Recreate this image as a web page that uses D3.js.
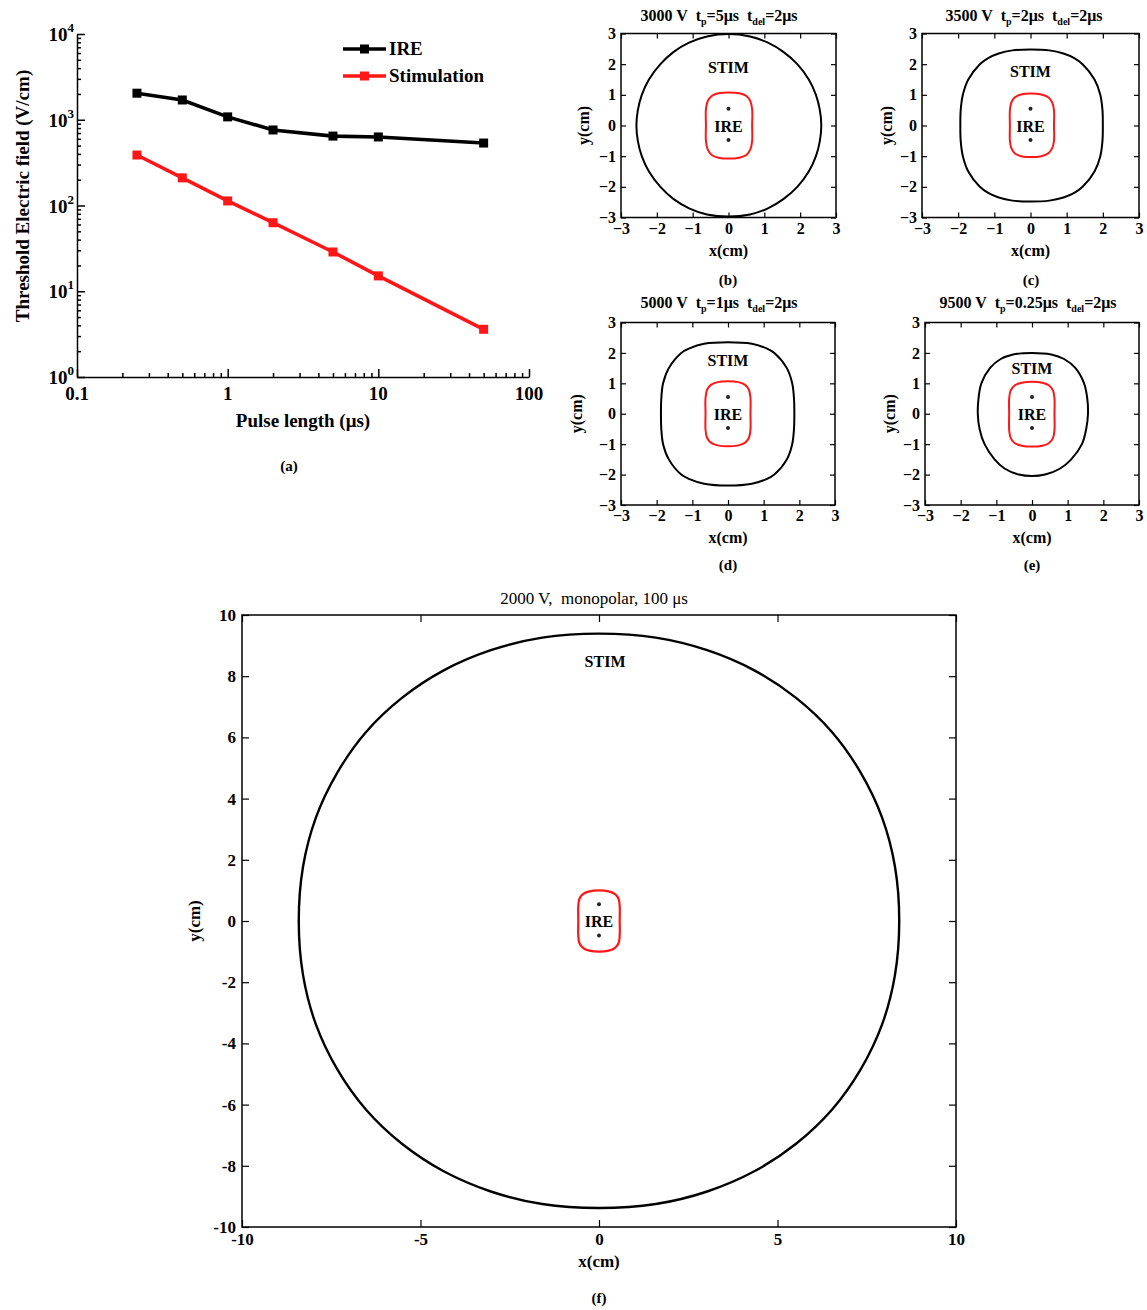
<!DOCTYPE html>
<html>
<head>
<meta charset="utf-8">
<script src="https://cdn.jsdelivr.net/npm/d3@7"></script>
<style>
body { margin: 0; background: #fff; }
text { font-family: "Liberation Serif", "Times New Roman", serif; fill: #000; }
</style>
</head>
<body>
<script>
// ---- panel (a): threshold field vs pulse length
var pulseLength = [0.25, 0.5, 1, 2, 5, 10, 50];
var ireThreshold = [2040, 1700, 1080, 760, 645, 630, 535];
var stimThreshold = [388, 210, 113, 63, 28.7, 15.1, 3.6];
var seriesNames = ['IRE', 'Stimulation'];
var seriesColours = ['#000000', '#ff1616'];
var yDecades = [1, 10, 100, 1000, 10000];
var yExponents = ['0', '1', '2', '3', '4'];
var xDecades = [0.1, 1, 10, 100];
var xDecadeLabels = ['0.1', '1', '10', '100'];

// ---- panels (b)-(e): contours, x/y in cm
var panelLetters = ['(b)', '(c)', '(d)', '(e)'];
var panelVolts = ['3000 V', '3500 V', '5000 V', '9500 V'];
var panelTp = ['5μs', '2μs', '1μs', '0.25μs'];
var panelTdel = ['2μs', '2μs', '2μs', '2μs'];
var smallTicks = [-3, -2, -1, 0, 1, 2, 3];

var stimB = [[0,2.98],[0.6,2.9],[1.1,2.7],[1.53,2.4],[1.92,2.0],[2.24,1.5],[2.44,1.0],[2.55,0.5],[2.59,0],[2.55,-0.5],[2.44,-1.0],[2.24,-1.5],
             [1.92,-2.0],[1.53,-2.4],[1.1,-2.7],[0.6,-2.9],[0,-2.97],[-0.6,-2.9],[-1.1,-2.7],[-1.53,-2.4],[-1.9,-2.0],[-2.22,-1.5],
             [-2.42,-1.0],[-2.53,-0.5],[-2.57,0],[-2.53,0.5],[-2.42,1.0],[-2.22,1.5],[-1.9,2.0],[-1.53,2.4],[-1.1,2.7],[-0.6,2.9]];
var ireB = [[0,1.08],[0.3,1.05],[0.5,0.96],[0.61,0.79],[0.66,0.53],[0.66,0],[0.66,-0.5],[0.61,-0.78],[0.5,-0.96],[0.3,-1.05],[0,-1.08],
            [-0.28,-1.05],[-0.47,-0.96],[-0.58,-0.78],[-0.63,-0.5],[-0.63,0],[-0.63,0.53],[-0.58,0.79],[-0.47,0.96],[-0.28,1.05]];

var stimC = [[0,2.48],[0.52,2.45],[0.91,2.35],[1.21,2.2],[1.44,2.0],[1.77,1.5],[1.93,1.0],[1.99,0.5],[2.0,0],[1.99,-0.5],[1.93,-1.0],[1.77,-1.5],
             [1.44,-2.0],[1.21,-2.2],[0.91,-2.35],[0.52,-2.45],[0,-2.48],[-0.5,-2.45],[-0.88,-2.35],[-1.17,-2.2],[-1.4,-2.0],[-1.72,-1.5],
             [-1.87,-1.0],[-1.93,-0.5],[-1.94,0],[-1.93,0.5],[-1.87,1.0],[-1.72,1.5],[-1.4,2.0],[-1.17,2.2],[-0.88,2.35],[-0.5,2.45]];
var ireC = [[0,1.04],[0.3,1.01],[0.49,0.92],[0.6,0.75],[0.65,0.5],[0.65,0],[0.65,-0.49],[0.6,-0.74],[0.49,-0.91],[0.3,-1.0],[0,-1.03],
            [-0.26,-1.0],[-0.43,-0.91],[-0.53,-0.74],[-0.57,-0.49],[-0.57,0],[-0.57,0.5],[-0.53,0.75],[-0.43,0.92],[-0.26,1.01]];

var stimD = [[0,2.35],[0.67,2.3],[1.08,2.15],[1.3,2.0],[1.65,1.5],[1.8,1.0],[1.85,0.5],[1.86,0],[1.85,-0.5],[1.8,-1.0],[1.65,-1.5],[1.3,-2.0],
             [1.08,-2.15],[0.67,-2.3],[0,-2.36],[-0.67,-2.3],[-1.08,-2.15],[-1.31,-2.0],[-1.66,-1.5],[-1.82,-1.0],[-1.87,-0.5],[-1.88,0],
             [-1.87,0.5],[-1.82,1.0],[-1.66,1.5],[-1.31,2.0],[-1.08,2.15],[-0.67,2.3]];
var ireD = [[0,1.07],[0.29,1.04],[0.48,0.95],[0.59,0.78],[0.63,0.52],[0.63,0],[0.63,-0.52],[0.59,-0.78],[0.48,-0.95],[0.29,-1.04],[0,-1.07],
            [-0.29,-1.04],[-0.48,-0.95],[-0.59,-0.78],[-0.63,-0.52],[-0.63,0],[-0.63,0.52],[-0.59,0.78],[-0.48,0.95],[-0.29,1.04]];

var stimE = [[0,2.0],[0.54,1.95],[0.9,1.8],[1.22,1.5],[1.46,1.0],[1.55,0.5],[1.57,0],[1.52,-0.5],[1.4,-1.0],[1.1,-1.5],[0.79,-1.8],[0.37,-2.0],
             [0,-2.05],[-0.37,-2.0],[-0.77,-1.8],[-1.05,-1.5],[-1.33,-1.0],[-1.47,-0.5],[-1.52,0],[-1.5,0.5],[-1.42,1.0],[-1.18,1.5],
             [-0.88,1.8],[-0.53,1.95]];
var ireE = [[0,1.05],[0.29,1.02],[0.48,0.93],[0.59,0.76],[0.63,0.5],[0.63,0],[0.63,-0.53],[0.59,-0.79],[0.48,-0.96],[0.29,-1.05],[0,-1.08],
            [-0.29,-1.05],[-0.49,-0.96],[-0.6,-0.79],[-0.64,-0.53],[-0.64,0],[-0.64,0.5],[-0.6,0.76],[-0.49,0.93],[-0.29,1.02]];

// ---- panel (f)
var bigXTicks = [-10, -5, 0, 5, 10];
var bigYTicks = [-10, -8, -6, -4, -2, 0, 2, 4, 6, 8, 10];
var stimF = [[0,9.39],[1.59,9.26],[3.03,8.85],[4.35,8.19],[5.52,7.29],[6.53,6.17],[7.33,4.85],[7.93,3.38],[8.29,1.78],[8.41,0],
             [8.29,-1.77],[7.93,-3.38],[7.33,-4.85],[6.53,-6.16],[5.52,-7.28],[4.35,-8.18],[3.03,-8.84],[1.59,-9.25],[0,-9.38],
             [-1.59,-9.25],[-3.03,-8.84],[-4.35,-8.18],[-5.52,-7.28],[-6.53,-6.16],[-7.33,-4.85],[-7.93,-3.38],[-8.29,-1.77],[-8.41,0],
             [-8.29,1.78],[-7.93,3.38],[-7.33,4.85],[-6.53,6.17],[-5.52,7.29],[-4.35,8.19],[-3.03,8.85],[-1.59,9.26]];
var ireF = [[0,1.0],[0.27,0.97],[0.45,0.88],[0.55,0.72],[0.58,0.48],[0.58,0],[0.58,-0.48],[0.55,-0.72],[0.45,-0.88],[0.27,-0.97],[0,-1.0],
            [-0.27,-0.97],[-0.45,-0.88],[-0.55,-0.72],[-0.58,-0.48],[-0.58,0],[-0.58,0.48],[-0.55,0.72],[-0.45,0.88],[-0.27,0.97]];
var electrodes = [[0, 0.55], [0, -0.47]];

var w = 1147, h = 1310;
var svg = d3.select('body').append('svg')
            .attr('width', w)
            .attr('height', h);

// ================= panel (a)
var xA = d3.scaleLog().domain([0.1, 100]).range([77, 529]);
var yA = d3.scaleLog().domain([1, 10000]).range([377, 34]);

var minorX = [], minorY = [];
[0.1, 1, 10].forEach(function(d){
  for (var m = 2; m <= 9; m++) minorX.push(+(d * m).toPrecision(3));
});
[1, 10, 100, 1000].forEach(function(d){
  for (var m = 2; m <= 9; m++) minorY.push(d * m);
});

var gA = svg.append('g');
gA.append('g')
  .attr('transform', 'translate(0,' + yA(1) + ')')
  .call(d3.axisBottom(xA).tickValues(xDecades).tickSizeInner(-8).tickSizeOuter(0).tickFormat(''));
gA.append('g')
  .attr('transform', 'translate(0,' + yA(1) + ')')
  .call(d3.axisBottom(xA).tickValues(minorX).tickSizeInner(-4).tickSizeOuter(0).tickFormat(''))
  .select('.domain').remove();
gA.append('g')
  .attr('transform', 'translate(' + xA(0.1) + ',0)')
  .call(d3.axisLeft(yA).tickValues(yDecades).tickSizeInner(-8).tickSizeOuter(0).tickFormat(''));
gA.append('g')
  .attr('transform', 'translate(' + xA(0.1) + ',0)')
  .call(d3.axisLeft(yA).tickValues(minorY).tickSizeInner(-4).tickSizeOuter(0).tickFormat(''))
  .select('.domain').remove();
gA.selectAll('.domain, .tick line').attr('stroke', '#000').attr('stroke-width', 1.5);

gA.selectAll('text.xlab')
  .data(xDecades)
  .enter()
  .append('text')
  .attr('class', 'xlab')
  .attr('x', function(d){ return xA(d); })
  .attr('y', 400)
  .attr('text-anchor', 'middle')
  .style('font-size', '19px')
  .style('font-weight', 'bold')
  .text(function(d, i){ return xDecadeLabels[i]; });

var ylab = gA.selectAll('text.ylab')
  .data(yDecades)
  .enter()
  .append('text')
  .attr('class', 'ylab')
  .attr('x', 74)
  .attr('y', function(d){ return yA(d) + 7; })
  .attr('text-anchor', 'end')
  .style('font-size', '19px')
  .style('font-weight', 'bold');
ylab.append('tspan').text('10');
ylab.append('tspan')
    .attr('dy', -9)
    .style('font-size', '13px')
    .text(function(d, i){ return yExponents[i]; });

var lineA = d3.line()
              .x(function(d){ return xA(d[0]); })
              .y(function(d){ return yA(d[1]); });

[ireThreshold, stimThreshold].forEach(function(vals, k){
  var pts = pulseLength.map(function(p, i){ return [p, vals[i]]; });
  gA.append('path')
    .datum(pts)
    .attr('d', lineA)
    .attr('fill', 'none')
    .attr('stroke', seriesColours[k])
    .attr('stroke-width', 3.6);
  gA.selectAll('rect.m' + k)
    .data(pts)
    .enter()
    .append('rect')
    .attr('class', 'm' + k)
    .attr('x', function(d){ return xA(d[0]) - 4.5; })
    .attr('y', function(d){ return yA(d[1]) - 4.5; })
    .attr('width', 9)
    .attr('height', 9)
    .attr('fill', seriesColours[k]);
});

// legend
seriesNames.forEach(function(name, i){
  var ly = 49 + i * 27;
  gA.append('line')
    .attr('x1', 343).attr('x2', 386)
    .attr('y1', ly).attr('y2', ly)
    .attr('stroke', seriesColours[i])
    .attr('stroke-width', 3.6);
  gA.append('rect')
    .attr('x', 360).attr('y', ly - 4.5)
    .attr('width', 9).attr('height', 9)
    .attr('fill', seriesColours[i]);
  gA.append('text')
    .attr('x', 389).attr('y', ly + 6)
    .style('font-size', '19px')
    .style('font-weight', 'bold')
    .text(name);
});

gA.append('text')
  .attr('transform', 'translate(29,196) rotate(-90)')
  .attr('text-anchor', 'middle')
  .style('font-size', '19px')
  .style('font-weight', 'bold')
  .text('Threshold Electric field (V/cm)');
gA.append('text')
  .attr('x', 303).attr('y', 427)
  .attr('text-anchor', 'middle')
  .style('font-size', '19px')
  .style('font-weight', 'bold')
  .text('Pulse length (μs)');
gA.append('text')
  .attr('x', 289).attr('y', 471)
  .attr('text-anchor', 'middle')
  .style('font-size', '15px')
  .style('font-weight', 'bold')
  .text('(a)');

// ================= contour panels helper
var contourLine = d3.line().curve(d3.curveCatmullRomClosed.alpha(0.5));

function framedAxes(g, xs, ys, xt, yt, tickLen, fontSize, fmt, pad){
  var x0 = xs.range()[0], x1 = xs.range()[1];
  var y0 = ys.range()[1], y1 = ys.range()[0];
  g.append('g').attr('class', 'ax').attr('transform', 'translate(0,' + y1 + ')')
   .call(d3.axisBottom(xs).tickValues(xt).tickSizeInner(-tickLen).tickSizeOuter(0).tickPadding(pad).tickFormat(fmt));
  g.append('g').attr('class', 'ax').attr('transform', 'translate(0,' + y0 + ')')
   .call(d3.axisTop(xs).tickValues(xt).tickSizeInner(-tickLen).tickSizeOuter(0).tickFormat(''));
  g.append('g').attr('class', 'ax').attr('transform', 'translate(' + x0 + ',0)')
   .call(d3.axisLeft(ys).tickValues(yt).tickSizeInner(-tickLen).tickSizeOuter(0).tickPadding(pad).tickFormat(fmt));
  g.append('g').attr('class', 'ax').attr('transform', 'translate(' + x1 + ',0)')
   .call(d3.axisRight(ys).tickValues(yt).tickSizeInner(-tickLen).tickSizeOuter(0).tickFormat(''));
  g.selectAll('.ax .domain').remove();
  g.selectAll('.ax').attr('font-family', null).attr('font-size', null);
  g.selectAll('.ax .tick line').attr('stroke', '#000').attr('stroke-width', 1.2);
  g.selectAll('.ax text')
   .style('font-size', fontSize + 'px')
   .style('font-weight', 'bold');
  g.append('rect')
   .attr('x', x0).attr('y', y0)
   .attr('width', x1 - x0).attr('height', y1 - y0)
   .attr('fill', 'none')
   .attr('stroke', '#000')
   .attr('stroke-width', 1.5);
}

function drawContours(g, xs, ys, stim, ire, dotR, wStim, wIre){
  var line = contourLine.x(function(d){ return xs(d[0]); }).y(function(d){ return ys(d[1]); });
  g.append('path').attr('d', line(stim))
   .attr('fill', 'none').attr('stroke', '#000').attr('stroke-width', wStim);
  g.append('path').attr('d', line(ire))
   .attr('fill', 'none').attr('stroke', '#ff1616').attr('stroke-width', wIre);
  g.selectAll('circle.el')
   .data(electrodes)
   .enter()
   .append('circle')
   .attr('class', 'el')
   .attr('cx', function(d){ return xs(d[0]); })
   .attr('cy', function(d){ return ys(d[1]); })
   .attr('r', dotR)
   .attr('fill', '#222');
}

// ================= panels (b)-(e)
var layouts = [
  {x0: 621, x1: 836, y0: 33.5, y1: 217.5, tx: 719, ty: 21, lx: 728, ly: 285, yl: 589, stimY: 1.9},
  {x0: 922, x1: 1139, y0: 33.5, y1: 217.5, tx: 1024, ty: 21, lx: 1031, ly: 285, yl: 892, stimY: 1.77},
  {x0: 621, x1: 835, y0: 322.5, y1: 505, tx: 719, ty: 308, lx: 728, ly: 570, yl: 582, stimY: 1.77},
  {x0: 925, x1: 1139, y0: 322.5, y1: 505, tx: 1028, ty: 308, lx: 1032, ly: 570, yl: 895, stimY: 1.51}
];
var stimSets = [stimB, stimC, stimD, stimE];
var ireSets = [ireB, ireC, ireD, ireE];

layouts.forEach(function(L, i){
  var g = svg.append('g');
  var xs = d3.scaleLinear().domain([-3, 3]).range([L.x0, L.x1]);
  var ys = d3.scaleLinear().domain([-3, 3]).range([L.y1, L.y0]);
  framedAxes(g, xs, ys, smallTicks, smallTicks, 5, 16, d3.format('d'), 5);
  drawContours(g, xs, ys, stimSets[i], ireSets[i], 2, 2, 2);

  g.append('text')
   .attr('x', xs(0)).attr('y', ys(L.stimY) + 6)
   .attr('text-anchor', 'middle')
   .style('font-size', '16px').style('font-weight', 'bold')
   .text('STIM');
  g.append('text')
   .attr('x', xs(0)).attr('y', ys(0) + 6)
   .attr('text-anchor', 'middle')
   .style('font-size', '16px').style('font-weight', 'bold')
   .text('IRE');

  var t = g.append('text')
   .attr('x', L.tx).attr('y', L.ty)
   .attr('text-anchor', 'middle')
   .style('font-size', '16px').style('font-weight', 'bold');
  t.append('tspan').text(panelVolts[i] + '\u00a0\u00a0t');
  t.append('tspan').attr('dy', 4).style('font-size', '10px').text('p');
  t.append('tspan').attr('dy', -4).text('=' + panelTp[i] + '\u00a0\u00a0t');
  t.append('tspan').attr('dy', 4).style('font-size', '10px').text('del');
  t.append('tspan').attr('dy', -4).text('=' + panelTdel[i]);

  g.append('text')
   .attr('x', (L.x0 + L.x1) / 2).attr('y', L.y1 + 38)
   .attr('text-anchor', 'middle')
   .style('font-size', '16px').style('font-weight', 'bold')
   .text('x(cm)');
  g.append('text')
   .attr('transform', 'translate(' + L.yl + ',' + ((L.y0 + L.y1) / 2) + ') rotate(-90)')
   .attr('text-anchor', 'middle')
   .style('font-size', '16px').style('font-weight', 'bold')
   .text('y(cm)');
  g.append('text')
   .attr('x', L.lx).attr('y', L.ly)
   .attr('text-anchor', 'middle')
   .style('font-size', '15px').style('font-weight', 'bold')
   .text(panelLetters[i]);
});

// ================= panel (f)
var gF = svg.append('g');
var xF = d3.scaleLinear().domain([-10, 10]).range([242, 956]);
var yF = d3.scaleLinear().domain([-10, 10]).range([1227, 615]);
framedAxes(gF, xF, yF, bigXTicks, bigYTicks, 7, 17, function(d){ return String(d); }, 6);
drawContours(gF, xF, yF, stimF, ireF, 2, 2.4, 2.2);

gF.append('text')
  .attr('x', xF(0.17)).attr('y', yF(8.5) + 6)
  .attr('text-anchor', 'middle')
  .style('font-size', '16px').style('font-weight', 'bold')
  .text('STIM');
gF.append('text')
  .attr('x', xF(0)).attr('y', yF(0) + 6)
  .attr('text-anchor', 'middle')
  .style('font-size', '16px').style('font-weight', 'bold')
  .text('IRE');
gF.append('text')
  .attr('x', 594).attr('y', 604)
  .attr('text-anchor', 'middle')
  .style('font-size', '17px')
  .text('2000 V,\u00a0 monopolar, 100 μs');
gF.append('text')
  .attr('x', 599).attr('y', 1267)
  .attr('text-anchor', 'middle')
  .style('font-size', '17px').style('font-weight', 'bold')
  .text('x(cm)');
gF.append('text')
  .attr('transform', 'translate(200,921) rotate(-90)')
  .attr('text-anchor', 'middle')
  .style('font-size', '17px').style('font-weight', 'bold')
  .text('y(cm)');
gF.append('text')
  .attr('x', 599).attr('y', 1303)
  .attr('text-anchor', 'middle')
  .style('font-size', '15px').style('font-weight', 'bold')
  .text('(f)');
</script>
</body>
</html>
